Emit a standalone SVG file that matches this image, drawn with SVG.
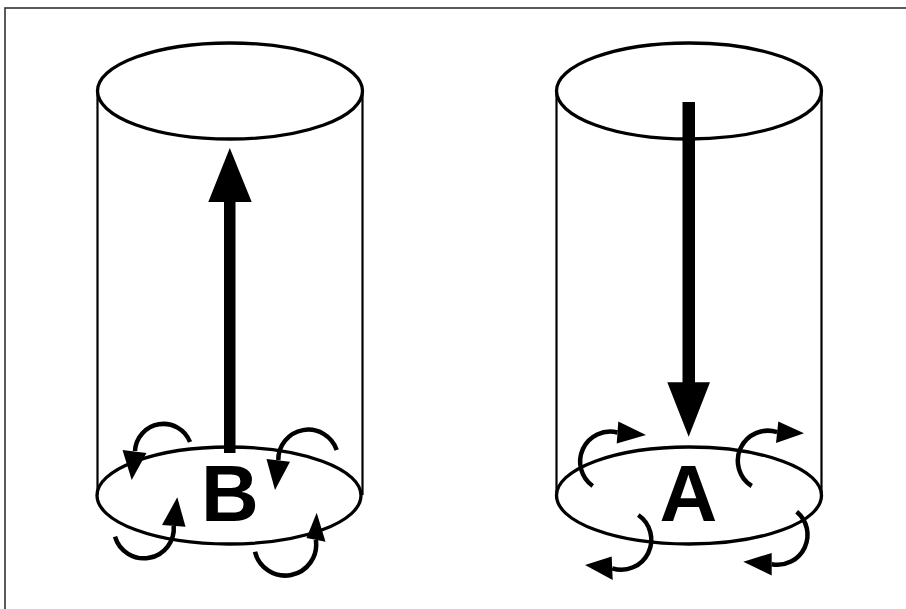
<svg xmlns="http://www.w3.org/2000/svg" width="906" height="609" viewBox="0 0 906 609">
<style>
.frame{fill:none;stroke:#333;stroke-width:1.6}
.side{fill:none;stroke:#000;stroke-width:2.2}
.rim{fill:none;stroke:#000;stroke-width:3.3}
.shaft{fill:#000}
.curl{fill:none;stroke:#000;stroke-width:4.5}
.head{fill:#000}
.lbl{font-family:"Liberation Sans",Arial,sans-serif;font-weight:bold;font-size:80px;fill:#000;text-anchor:middle}
</style>
<rect width="906" height="609" fill="#fff"/>
<rect class="frame" x="5" y="8" width="1000" height="1000"/>
<g id="cylinder-B">
  <line class="side" x1="97.5" y1="91" x2="97.5" y2="495"/>
  <line class="side" x1="362.5" y1="91" x2="362.5" y2="495"/>
  <ellipse class="rim" cx="230" cy="91" rx="132.5" ry="48"/>
  <ellipse class="rim" cx="229" cy="495.5" rx="132" ry="48.5"/>
</g>
<g id="cylinder-A">
  <line class="side" x1="556.5" y1="91" x2="556.5" y2="495"/>
  <line class="side" x1="821.5" y1="91" x2="821.5" y2="495"/>
  <ellipse class="rim" cx="689" cy="91" rx="132.5" ry="48"/>
  <ellipse class="rim" cx="689" cy="495.5" rx="132.5" ry="48.5"/>
</g>
<g id="connectors">
  <!-- up arrow (B) -->
  <rect class="shaft" x="224" y="200" width="11.5" height="253"/>
  <polygon class="head" points="229.8,148 208.3,202 251.7,202"/>
  <!-- down arrow (A) -->
  <rect class="shaft" x="682.5" y="102" width="12.5" height="282"/>
  <polygon class="head" points="667.3,382.3 710,382.3 688.7,436.7"/>
  <!-- B curls -->
  <path class="curl" d="M190,442 A28.5,28.5 0 0 0 135,451"/>
  <polygon class="head" points="122.5,450 146.5,453 131.7,480"/>
  <path class="curl" d="M336.7,450 A30,30 0 0 0 278.3,460.3"/>
  <polygon class="head" points="266.5,459 290,461.7 275,490"/>
  <path class="curl" d="M115,536.7 A30,30 0 0 0 173.7,525.8"/>
  <polygon class="head" points="162,525 185.5,526.7 177.3,497.3"/>
  <path class="curl" d="M255,551.7 A31,31 0 0 0 315.8,539.8"/>
  <polygon class="head" points="306.5,538 325.5,541.7 316.7,512.7"/>
  <!-- A curls -->
  <path class="curl" d="M592.7,486 A30,30 0 0 1 617.5,432.5"/>
  <polygon class="head" points="618.3,421.5 616.7,443.5 646,435"/>
  <path class="curl" d="M751.7,486 A30,30 0 0 1 777.2,432.2"/>
  <polygon class="head" points="778.3,421.5 776,443 804,433.3"/>
  <path class="curl" d="M638.3,515 A30,30 0 0 1 612.2,568.3"/>
  <polygon class="head" points="611.7,556.5 612.7,580 585,565"/>
  <path class="curl" d="M796.7,511.7 A30,30 0 0 1 771.7,564.2"/>
  <polygon class="head" points="771.7,553 771.7,575.5 743.3,561.7"/>
</g>
<g id="label-B"><text class="lbl" x="230" y="521">B</text></g>
<g id="label-A"><text class="lbl" x="688.5" y="521">A</text></g>
</svg>
